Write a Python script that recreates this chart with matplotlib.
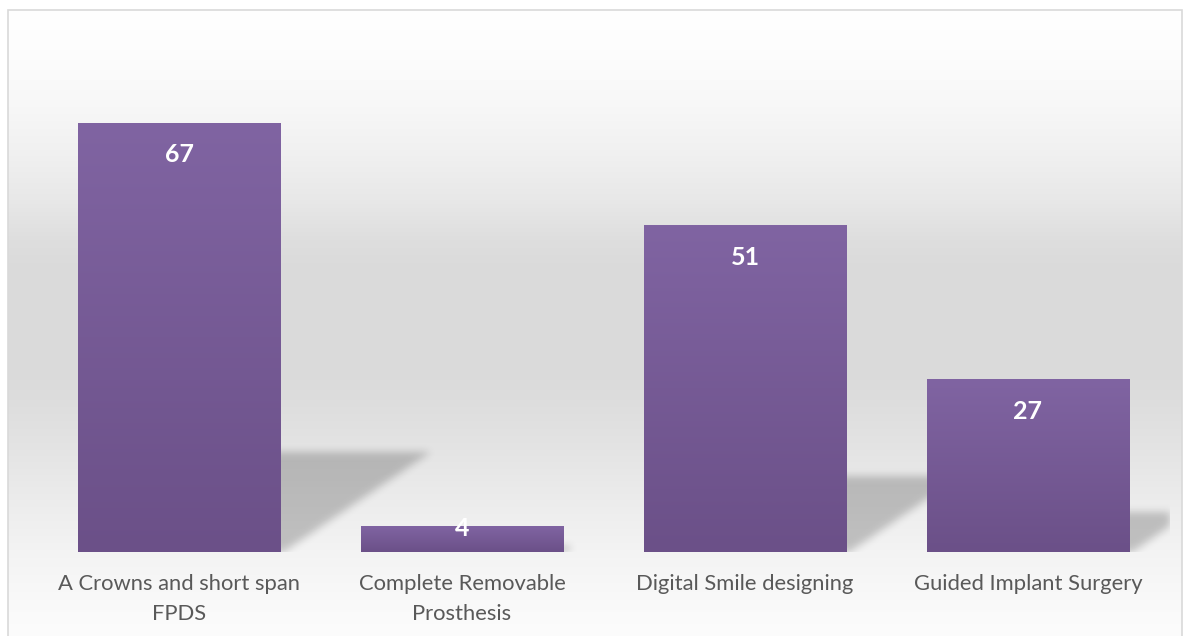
import numpy as np
import matplotlib
matplotlib.use('Agg')
import matplotlib.pyplot as plt
from matplotlib.path import Path
from matplotlib.colors import LinearSegmentedColormap
from matplotlib.patches import Rectangle

plt.rcParams['font.family'] = ['Lato', 'DejaVu Sans']

# ---------------- data ----------------
categories = ["A Crowns and short span\nFPDS",
              "Complete Removable\nProsthesis",
              "Digital Smile designing",
              "Guided Implant Surgery"]
values = [67, 4, 51, 27]

# ---------------- figure ----------------
W_PX, H_PX = 1183, 636
fig = plt.figure(figsize=(W_PX / 100, H_PX / 100), dpi=100)
fig.patch.set_facecolor('white')

# chart-area background gradient
bg_left, bg_top, bg_right = 8, 10, 1182
bg = fig.add_axes([bg_left / W_PX, 0, (bg_right - bg_left) / W_PX, (H_PX - bg_top) / H_PX])
rows = np.arange(bg_top, H_PX) + 0.5
stop_y = [10, 50, 100, 150, 200, 240, 270, 370, 400, 450, 500, 550, 600, 636]
stop_v = [255, 253, 248, 241, 232, 222, 218, 218, 221, 228, 236, 243, 249, 252]
g = np.interp(rows, stop_y, stop_v) / 255.0
bg_img = np.repeat(np.repeat(g[:, None, None], 3, axis=2), 8, axis=1)
bg.imshow(bg_img, aspect='auto', extent=(0, 1, 0, 1), interpolation='nearest')
bg.set_axis_off()
bg.set_zorder(0)

fig.add_artist(Rectangle((bg_left / W_PX, -0.02), (bg_right - bg_left) / W_PX,
                         (H_PX - bg_top) / H_PX + 0.02, transform=fig.transFigure,
                         fill=False, edgecolor='#d9d9d9', linewidth=1.2, zorder=10))

# main axes
ax_left, ax_bottom, ax_w, ax_h = 37.5, 84, 1132, 512.24
ax = fig.add_axes([ax_left / W_PX, ax_bottom / H_PX, ax_w / W_PX, ax_h / H_PX])
ax.set_zorder(1)
ax.patch.set_alpha(0)
XLIM = (-0.5, len(values) - 0.5)
YLIM = (0, 80)
ax.set_xlim(*XLIM)
ax.set_ylim(*YLIM)

x = np.arange(len(values))
bar_w = 0.714
px_per_unit = ax_h / (YLIM[1] - YLIM[0])
px_per_x = ax_w / (XLIM[1] - XLIM[0])

# ---------------- perspective shadows (blurred) ----------------
Wi, Hi = int(round(ax_w)), int(round(ax_h))
xs = XLIM[0] + (np.arange(Wi) + 0.5) / Wi * (XLIM[1] - XLIM[0])
ys = YLIM[1] - (np.arange(Hi) + 0.5) / Hi * (YLIM[1] - YLIM[0])
XX, YY = np.meshgrid(xs, ys)
pts = np.column_stack([XX.ravel(), YY.ravel()])
mask = np.zeros(Hi * Wi)
for xi, v in zip(x, values):
    ys_top = 0.233 * v
    dx = 0.35 * v * px_per_unit / px_per_x
    xl, xr = xi, xi + bar_w / 2
    poly = Path([(xl, 0), (xl, ys_top), (xr + dx, ys_top), (xr + 0.01, 0), (xl, 0)])
    mask = np.maximum(mask, poly.contains_points(pts).astype(float))
mask = mask.reshape(Hi, Wi)

sigma = 4.0
rad = int(3 * sigma)
k = np.exp(-0.5 * (np.arange(-rad, rad + 1) / sigma) ** 2)
k /= k.sum()
pad = np.pad(mask, rad, mode='constant')
tmp = np.zeros_like(pad)
for i, kv in enumerate(k):
    tmp += kv * np.roll(pad, i - rad, axis=1)
out = np.zeros_like(pad)
for i, kv in enumerate(k):
    out += kv * np.roll(tmp, i - rad, axis=0)
blur = out[rad:-rad, rad:-rad]
shadow = np.zeros((Hi, Wi, 4))
shadow[..., 3] = blur * 0.21
ax.imshow(shadow, extent=(XLIM[0], XLIM[1], YLIM[0], YLIM[1]), aspect='auto',
          origin='upper', zorder=1, interpolation='nearest')

# ---------------- bars ----------------
bars = ax.bar(x, values, width=bar_w, color='#745996', zorder=3)
cmap = LinearSegmentedColormap.from_list('barg', ['#8064a2', '#6b5088'])
grad = np.linspace(0, 1, 256)[:, None]
for b in bars:
    x0, w, h = b.get_x(), b.get_width(), b.get_height()
    im = ax.imshow(grad, cmap=cmap, extent=(x0, x0 + w, 0, h), origin='upper',
                   aspect='auto', zorder=4, interpolation='bilinear')
    im.set_clip_path(b)

ax.set_xlim(*XLIM)
ax.set_ylim(*YLIM)

# value labels
for b, v in zip(bars, values):
    h_px = v * px_per_unit
    off = -32 if h_px > 60 else -2
    ax.annotate(f"{v}", xy=(b.get_x() + b.get_width() / 2, v), xytext=(0, off),
                textcoords='offset pixels', ha='center', va='center', color='white',
                fontsize=18, fontweight='bold', zorder=6)

# axes styling
ax.set_xticks(x)
ax.set_xticklabels(categories, fontsize=15.8, color='#595959', linespacing=1.65)
ax.tick_params(axis='x', length=0, pad=15.5)
ax.set_yticks([])
for s in ax.spines.values():
    s.set_visible(False)

fig.savefig('out.png', dpi=100, facecolor='white')
